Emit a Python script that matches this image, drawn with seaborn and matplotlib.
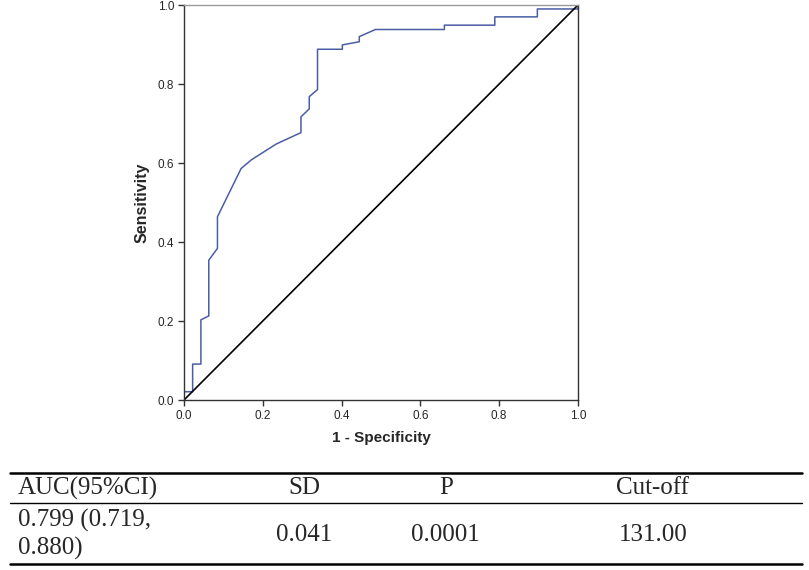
import matplotlib
matplotlib.use('Agg')
import matplotlib.pyplot as plt
import seaborn as sns
import pandas as pd

# ROC curve points
fpr = [0.0, 0.0, 0.022, 0.022, 0.043, 0.043, 0.063, 0.063, 0.085, 0.085, 0.145, 0.171,
       0.234, 0.297, 0.297, 0.318, 0.318, 0.339, 0.339, 0.402, 0.402, 0.445, 0.445,
       0.486, 0.661, 0.661, 0.789, 0.789, 0.897, 0.897, 1.0, 1.0]
tpr = [0.0, 0.021, 0.021, 0.091, 0.091, 0.203, 0.213, 0.354, 0.384, 0.464, 0.586, 0.608,
       0.648, 0.677, 0.717, 0.737, 0.768, 0.786, 0.888, 0.888, 0.899, 0.907, 0.920,
       0.938, 0.938, 0.949, 0.949, 0.970, 0.970, 0.990, 0.990, 1.0]
ref_line = [0.0, 1.0]
ticks = [0.0, 0.2, 0.4, 0.6, 0.8, 1.0]

# table below the chart
col_names = ['AUC(95%CI)', 'SD', 'P', 'Cut-off']
auc_lines = ['0.799 (0.719,', '0.880)']
row_values = ['0.041', '0.0001', '131.00']

sns.set_style('white')
plt.rcParams['font.family'] = ['Liberation Sans', 'DejaVu Sans']

fig = plt.figure(figsize=(8.09, 5.70), dpi=100)
ax = fig.add_axes([0.2274, 0.2982, 0.487, 0.693])

roc = pd.DataFrame({'fpr': fpr, 'tpr': tpr})
sns.lineplot(data=roc, x='fpr', y='tpr', sort=False, estimator=None,
             color='#4A5DA6', lw=1.1, ax=ax)
sns.lineplot(x=ref_line, y=ref_line, color='black', lw=1.2, ax=ax)

ax.set_xlim(0, 1)
ax.set_ylim(0, 1)
ax.set_xticks(ticks)
ax.set_yticks(ticks)
ax.set_xticklabels([f'{t:.1f}' for t in ticks], fontsize=8.5)
ax.set_yticklabels([f'{t:.1f}' for t in ticks], fontsize=8.5)
ax.tick_params(axis='both', direction='out', length=4.5, width=1, color='#333333',
               pad=2.5, left=True, bottom=True)
ax.set_xlabel('1 - Specificity', fontsize=11, fontweight='bold', labelpad=7)
ax.set_ylabel('Sensitivity', fontsize=11.5, fontweight='bold', labelpad=6)

for side in ['left', 'bottom', 'right']:
    ax.spines[side].set_color('#333333')
    ax.spines[side].set_linewidth(1.0)
ax.spines['top'].set_color('#999999')
ax.spines['top'].set_linewidth(1.0)

# table drawn as figure text and rules
serif = ['Liberation Serif', 'DejaVu Serif']
fig.add_artist(plt.Line2D([0.0124, 0.9913], [0.1702, 0.1702], color='black', lw=1.8))
fig.add_artist(plt.Line2D([0.0124, 0.9913], [0.1175, 0.1175], color='black', lw=1.0))
fig.add_artist(plt.Line2D([0.0124, 0.9913], [0.0105, 0.0105], color='black', lw=1.8))

col_x = [0.0222, 0.376, 0.551, 0.807]
fig.text(col_x[0], 0.1439, col_names[0], family=serif, fontsize=18, ha='left', va='center')
for x, name in zip(col_x[1:], col_names[1:]):
    fig.text(x, 0.1439, name, family=serif, fontsize=18, ha='center', va='center')

fig.text(col_x[0], 0.0877, auc_lines[0], family=serif, fontsize=18, ha='left', va='center')
fig.text(col_x[0], 0.0386, auc_lines[1], family=serif, fontsize=18, ha='left', va='center')
for x, val in zip(col_x[1:], row_values):
    fig.text(x, 0.0614, val, family=serif, fontsize=18, ha='center', va='center')

fig.savefig('out.png', dpi=100)
